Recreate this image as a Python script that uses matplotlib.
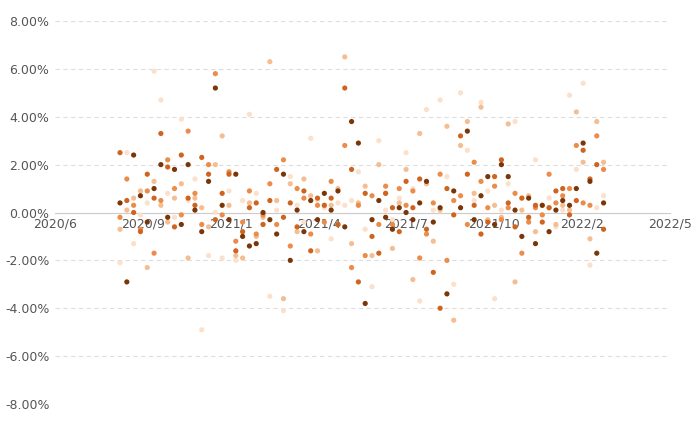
import matplotlib.pyplot as plt
import numpy as np

# weekly observations, x measured in weeks from the first column
weeks = np.arange(72)

s_dark = [0.4, -2.9, 2.4, 0.7, -0.4, 1.0, 2.0, -0.2, 1.8, -0.5, 2.0, 0.1, -0.8, 1.3, 5.2, 0.3, -0.3, 1.6, -1.0, -1.4, -1.3, 0.0, -0.3,
          -0.9, 1.6, -2.0, 0.1, -0.8, 0.5, -0.3, 0.8, 0.1, 0.9, -0.6, 3.8, 2.9, -3.8, -0.3, 0.5, -0.2, -0.7, 0.2, 0.0, -0.3, 0.4, 1.3,
          -0.4, 0.2, -3.4, 0.9, 0.2, 3.4, -0.3, 0.7, 1.5, -0.5, 2.0, 1.5, 0.1, -1.0, 0.6, -1.3, 0.3, -0.8, 0.1, 0.5, 0.3, 1.0, 2.9, 1.3,
          -1.7, 0.4]
s_mid = [2.5, 0.5, 0.0, -0.8, 1.6, 0.6, 3.3, 1.9, -0.6, 2.4, 0.6, 0.3, 2.3, 1.6, -0.3, 0.8, 1.6, -1.6, -0.8, 0.2, 0.4, -0.5, 0.5,
         1.8, -0.2, 0.4, -0.6, 0.9, -1.6, 0.6, 0.3, 0.6, -0.5, 5.2, 1.8, -2.9, 0.8, -1.0, -1.7, 0.8, 0.2, -0.8, 1.3, 0.2, 1.4, -0.7,
         -2.5, -4.0, 1.0, -0.1, 3.2, 1.6, 0.3, -0.9, -0.4, 1.5, 2.2, 0.4, -0.6, 0.6, -0.2, 0.3, -0.4, 0.2, 0.9, 1.0, -0.1, 0.5, 2.6,
         1.4, 2.0, -0.7]
s_orange = [-0.2, 1.4, 0.3, -0.7, 0.9, -1.7, 0.5, 2.2, 1.0, -0.1, 3.4, 0.8, -0.5, 2.0, 5.8, -0.1, 1.7, -1.2, -0.4, 0.9, -0.9, -0.1,
            1.2, -0.5, 2.2, -1.4, 1.0, 0.6, -0.9, 0.3, -0.4, 1.3, -0.5, 2.8, -2.3, 0.3, -1.8, 0.7, -0.5, 1.1, -0.5, 1.0, 0.3, 0.9,
            -1.9, -0.9, 0.4, 1.6, -2.0, 0.5, 0.7, -0.5, 2.1, 1.3, 0.2, 1.1, -0.3, 0.2, 0.8, -1.7, -0.4, 0.2, -0.1, 1.6, 0.4, 0.7,
            1.0, 2.8, 0.4, 0.3, 3.2, 1.8]
s_light = [-0.7, 0.1, 0.6, 0.9, -2.3, 1.3, 0.3, -0.4, 0.6, 1.2, -1.9, 0.6, 0.2, -0.6, 2.0, 3.2, 0.3, -1.8, -1.9, 0.4, -1.0, -0.2,
           6.3, 0.5, -3.6, 1.2, -0.8, 1.4, 0.7, -1.6, 0.3, 0.3, 1.0, 6.5, -1.3, 0.4, 1.1, -1.8, 2.0, 0.8, -1.5, 0.4, 1.8, -2.8,
           3.3, 1.2, -1.2, 0.1, 3.6, -4.5, 2.8, 3.8, 0.8, 4.4, -0.3, 0.3, -0.2, 3.7, -2.9, 0.1, 0.7, -0.8, 0.3, 0.2, -0.5, 0.3,
           0.1, 4.2, 2.1, -1.1, 3.8, 2.1]
s_pale = [-2.1, 2.5, -1.3, -0.1, 0.4, 5.9, 4.7, 0.8, -0.2, 3.9, 0.5, 1.4, -4.9, -1.8, 0.0, -1.9, 0.9, -2.0, 0.5, 4.1, 0.8, -0.5,
          -3.5, 0.1, -4.1, 1.5, 0.3, -0.4, 3.1, 0.5, 0.2, -1.1, 0.4, 0.3, 0.5, 1.7, -0.7, -3.1, 3.0, 0.1, -0.3, 0.6, 2.5, 1.0,
          -3.7, 4.3, 0.1, 4.7, 1.5, -3.0, 5.0, 2.6, 0.5, 4.6, 0.9, -3.6, 0.1, 1.2, 3.8, 0.6, -0.3, 2.2, -0.1, 0.6, -0.6, 0.1, 4.9,
          1.8, 5.4, -2.2, 0.2, 0.7]

series = [s_pale, s_light, s_orange, s_mid, s_dark]
colors = ['#fbe0cb', '#f5bd92', '#ea8d4a', '#cf6420', '#7a3608']

tick_labels = ['2020/6', '2020/9', '2021/1', '2021/4', '2021/7', '2021/10', '2022/2', '2022/5']

fig = plt.figure(figsize=(7, 4.21), dpi=100)
ax = fig.add_axes([55 / 700, 17 / 421, 615 / 700, 383 / 421])

# one tick = 13 weeks, first column sits 0.74 tick after the first label
for vals, c in zip(series, colors):
    x = 0.74 + weeks / 12.9
    ax.scatter(x, vals, s=14, color=c, edgecolors='none', zorder=3, clip_on=False)

ax.set_xlim(0, 7)
ax.set_ylim(-8, 8)
ax.set_xticks(range(8))
ax.set_xticklabels(tick_labels)
ax.set_yticks(range(-8, 9, 2))
ax.set_yticklabels(['%.2f%%' % v for v in range(-8, 9, 2)])
ax.grid(axis='y', linestyle=(0, (4, 3)), color='#dddddd', linewidth=0.8, zorder=0)
for side in ['top', 'right', 'left']:
    ax.spines[side].set_visible(False)
ax.spines['bottom'].set_position(('data', 0))
ax.spines['bottom'].set_color('#cccccc')
ax.tick_params(axis='both', length=0, colors='#555555', labelsize=9)
ax.tick_params(axis='y', pad=4)

fig.savefig('out.png')
